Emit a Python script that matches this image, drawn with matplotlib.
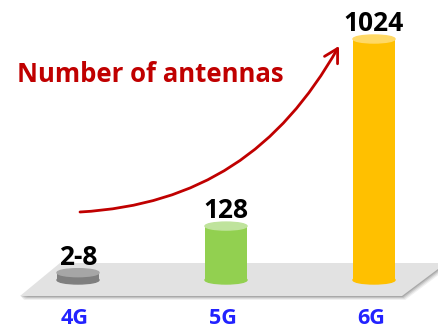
import numpy as np
import matplotlib.pyplot as plt
from matplotlib.patches import Ellipse, Polygon, FancyArrowPatch
from matplotlib.path import Path
import matplotlib.transforms as mtransforms

# --- Data ---
generations = ["4G", "5G", "6G"]
antennas = [8, 128, 1024]
value_labels = ["2-8", "128", "1024"]

body_colors = ["#7f7f7f", "#92d050", "#ffc000"]
top_colors = ["#a6a6a6", "#bfe39c", "#ffd966"]

W, H = 438, 331
DPI = 100
FONT = "Open Sans"

def px(x, y):
    # pixel (origin top-left) -> figure fraction
    return x / W, 1 - y / H

# power scale so the tall bar doesn't squash the others
p = 0.72
fwd = lambda v: np.sign(v) * np.abs(v) ** p
inv = lambda v: np.sign(v) * np.abs(v) ** (1 / p)

fig = plt.figure(figsize=(W / DPI, H / DPI), dpi=DPI)
ax = fig.add_axes([0, 0, 1, 1])
ax.set_yscale("function", functions=(fwd, inv))
ax.axis("off")

base_px = 51        # height of the floor above figure bottom
top_px = 241        # height of the tallest cylinder
k = fwd(max(antennas)) / top_px
ax.set_ylim(inv(-base_px * k), inv((H - base_px) * k))
step = 148
ax.set_xlim(-78 / step, (W - 78) / step)

# --- Floor (parallelogram with soft shadow) ---
floor = [(20, 296), (60, 263), (446, 263), (402, 296)]
for i, a in enumerate([0.10, 0.15, 0.22, 0.30]):
    off = 4 - i
    pts = [px(x + off * 0.8, y + off) for x, y in floor]
    ax.add_patch(Polygon(pts, closed=True, transform=fig.transFigure, clip_on=False,
                         facecolor="#6e6e6e", edgecolor="none", alpha=a, zorder=0.5))
ax.add_patch(Polygon([px(x, y) for x, y in floor], closed=True, clip_on=False,
                     transform=fig.transFigure, facecolor="#e2e2e2",
                     edgecolor="none", zorder=0.6))

# --- Cylinders ---
x = np.arange(len(antennas))
width = 42 / step
ax.bar(x, antennas, width=width, color=body_colors, zorder=2)
for xi, v, c_body, c_top, lab in zip(x, antennas, body_colors, top_colors, value_labels):
    bot_tr = fig.dpi_scale_trans + mtransforms.ScaledTranslation(xi, 0, ax.transData)
    top_tr = fig.dpi_scale_trans + mtransforms.ScaledTranslation(xi, v, ax.transData)
    ax.add_patch(Ellipse((0, 0), 0.42, 0.08, transform=bot_tr, color=c_body, zorder=2))
    ax.add_patch(Ellipse((0, 0), 0.42, 0.08, transform=top_tr, color=c_top, zorder=3))
    ax.annotate(lab, (xi, v), xytext=(0, 8), textcoords="offset pixels",
                ha="center", va="baseline", fontsize=19, fontweight="bold",
                family=FONT, color="black", zorder=4)

# --- Category labels under the floor ---
for xi, g in zip(x, generations):
    ax.annotate(g, (xi, 0), xytext=(-3, -44), textcoords="offset pixels",
                ha="center", va="baseline", fontsize=15.5, fontweight="bold",
                family=FONT, color="#2222ff")

# --- Growth arrow and caption ---
verts = [px(80, 212), px(200, 205), px(280, 150), px(339, 46)]
codes = [Path.MOVETO, Path.CURVE4, Path.CURVE4, Path.CURVE4]
arrow = FancyArrowPatch(path=Path(verts, codes), transform=fig.transFigure,
                        arrowstyle="->,head_length=0.8,head_width=0.45",
                        mutation_scale=12, color="#c00000", lw=2, zorder=5)
fig.add_artist(arrow)

fig.text(*px(17, 75), "Number of antennas", ha="left", va="center",
         fontsize=18.5, fontweight="bold", family=FONT, color="#c00000")

plt.savefig("out.png", dpi=DPI)
